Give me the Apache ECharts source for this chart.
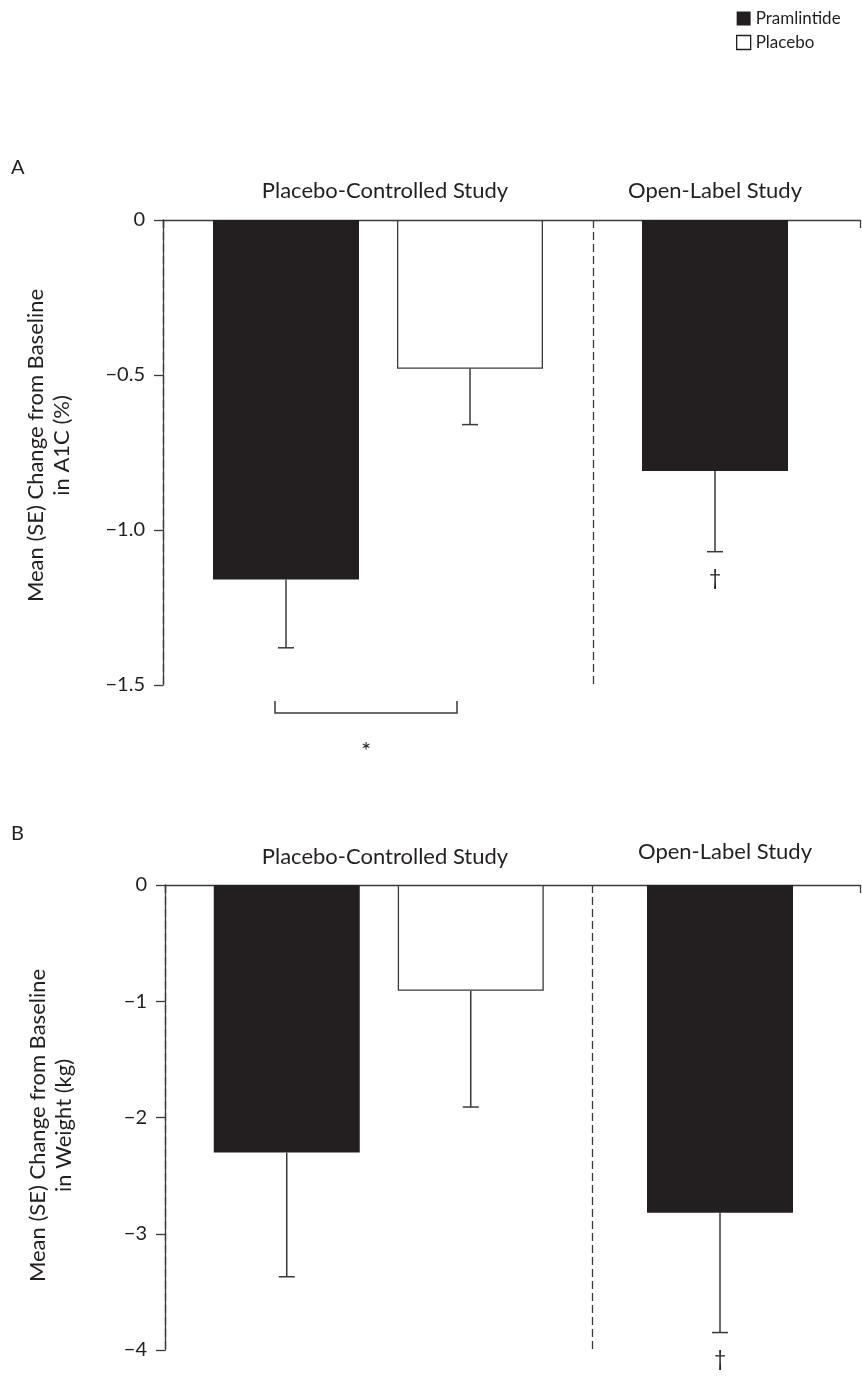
<!DOCTYPE html>
<html><head><meta charset="utf-8">
<script src="https://cdn.jsdelivr.net/npm/echarts@6/dist/echarts.min.js"></script>
<style>html,body{margin:0;padding:0;background:#fff;overflow:hidden}#c{width:862px;height:1378px}</style>
</head><body><div id="c"></div>
<script>
// ---- data ----
const studies = ['Placebo-Controlled Study', 'Open-Label Study'];
const seriesNames = ['Pramlintide', 'Placebo'];
const a1cPram = [-1.16, -0.81];
const a1cPramSE = [0.22, 0.26];
const a1cPlac = [-0.48, null];
const a1cPlacSE = [0.18, null];
const a1cPramMarks = ['', '\u2020'];
const wtPram = [-2.3, -2.82];
const wtPramSE = [1.07, 1.03];
const wtPlac = [-0.91, null];
const wtPlacSE = [1.0, null];
const wtPramMarks = ['', '\u2020'];
const a1cTicks = [0, -0.5, -1.0, -1.5];
const wtTicks = [0, -1, -2, -3, -4];
const a1cTitle = 'Mean (SE) Change from Baseline\nin A1C (%)';
const wtTitle = 'Mean (SE) Change from Baseline\nin Weight (kg)';

// ---- style ----
const FONT = 'Lato';
const INK = '#231f20';
const LINE = '#3a3a3a';
const BAR_W = 146;
const GAP = 38;
const SHIFT = (BAR_W + GAP) / 2;

const chart = echarts.init(document.getElementById('c'), null, {renderer: 'canvas'});

function minOf(t){return Math.min.apply(null,t);}
function maxOf(t){return Math.max.apply(null,t);}
function fmt1(v){ if (v === 0) return '0'; return '\u2212' + Math.abs(v).toFixed(1); }
function fmt0(v){ if (v === 0) return '0'; return '\u2212' + Math.abs(v).toFixed(0); }

function frameY(grid, ticks, title, fmt, shiftY){
  return {
    type:'value', gridIndex: grid, min: minOf(ticks), max: maxOf(ticks),
    interval: Math.abs(ticks[1]-ticks[0]),
    axisLine:{show:true, lineStyle:{color:LINE, width:1.3}},
    axisTick:{show:true, length:9, lineStyle:{color:LINE, width:1.3}},
    axisLabel:{margin:18, fontSize:20, color:INK, fontFamily:FONT, formatter: fmt},
    splitLine:{show:false},
    name: title, nameLocation:'middle', nameRotate:90, nameGap:88,
    nameTextStyle:{fontSize:22, lineHeight:26, color:INK, fontFamily:FONT, align:'center', padding:shiftY}
  };
}
function hiddenY(grid, ticks){
  return {type:'value', gridIndex:grid, min:minOf(ticks), max:maxOf(ticks), show:false};
}
function frameX(grid){
  return {type:'value', gridIndex:grid, min:0, max:1, interval:1, position:'top',
    axisLine:{show:true, onZero:false, lineStyle:{color:LINE, width:1.3}},
    axisTick:{show:true, inside:true, length:8, lineStyle:{color:LINE, width:1.3}},
    axisLabel:{show:false}, splitLine:{show:false}};
}
function barsX(grid, cat, dashed){
  return {type:'category', gridIndex:grid, data:[cat], position:'top',
    axisLine:{show:false}, axisTick:{show:false}, axisLabel:{show:false},
    splitLine:{show:dashed, interval:0, lineStyle:{color:LINE, width:1.3, type:[8,4]}}};
}
function barSeries(name, data, ax, hollow){
  return {type:'bar', name:name, xAxisIndex:ax, yAxisIndex:ax, data:data,
    barWidth:BAR_W, barGap:(GAP/BAR_W*100)+'%',
    itemStyle: hollow ? {color:'#fff', borderColor:LINE, borderWidth:1.3} : {color:INK},
    silent:true};
}
function errSeries(name, mean, se, mark, side, ax){
  return {type:'custom', name:name+' SE', xAxisIndex:ax, yAxisIndex:ax, z:5, silent:true,
    data:[[0, mean, mean - se]], encode:{x:0, y:[1,2]},
    renderItem:(params, api)=>{
      const top = api.coord([api.value(0), api.value(1)]);
      const bot = api.coord([api.value(0), api.value(2)]);
      const x = top[0] + side*SHIFT;
      const st = {stroke:LINE, lineWidth:1.5};
      const ch = [
        {type:'line', shape:{x1:x,y1:top[1],x2:x,y2:bot[1]}, style:st},
        {type:'line', shape:{x1:x-8,y1:bot[1],x2:x+8,y2:bot[1]}, style:st}
      ];
      if (mark) ch.push({type:'text', style:{text:mark, x:x, y:bot[1]+27, align:'center', verticalAlign:'middle', fontSize:21, fontFamily:FONT, fill:INK}});
      return {type:'group', children:ch};
    }};
}

const panels = [
  {pram:a1cPram, pramSE:a1cPramSE, plac:a1cPlac, placSE:a1cPlacSE, marks:a1cPramMarks, ticks:a1cTicks, title:a1cTitle, fmt:fmt1,
   top:220, frameLeft:163, titlePad:[0,0,0,14], groups:[{left:163, width:430}, {left:600, width:230}]},
  {pram:wtPram, pramSE:wtPramSE, plac:wtPlac, placSE:wtPlacSE, marks:wtPramMarks, ticks:wtTicks, title:wtTitle, fmt:fmt0,
   top:885, frameLeft:165, titlePad:[0,16,0,0], groups:[{left:165, width:427.5}, {left:605, width:230}]}
];
const H = 465;

const grids = [], xAxes = [], yAxes = [], series = [];
panels.forEach(p => {
  const f = grids.length;
  grids.push({left:p.frameLeft, top:p.top, width:860 - p.frameLeft, height:H});
  xAxes.push(frameX(f));
  yAxes.push(frameY(f, p.ticks, p.title, p.fmt, p.titlePad));
  studies.forEach((s, i) => {
    const g = grids.length;
    grids.push({left:p.groups[i].left, top:p.top, width:p.groups[i].width, height:H});
    xAxes.push(barsX(g, s, i === 0));
    yAxes.push(hiddenY(g, p.ticks));
    const hasPlac = p.plac[i] != null;
    series.push(barSeries(seriesNames[0], [p.pram[i]], g, false));
    if (hasPlac) series.push(barSeries(seriesNames[1], [p.plac[i]], g, true));
    series.push(errSeries(seriesNames[0], p.pram[i], p.pramSE[i], p.marks[i], hasPlac ? -1 : 0, g));
    if (hasPlac) series.push(errSeries(seriesNames[1], p.plac[i], p.placSE[i], '', 1, g));
  });
});

chart.setOption({
  animation:false,
  backgroundColor:'#fff',
  legend:{
    orient:'vertical', left:736, top:10, padding:0, itemWidth:14, itemHeight:14, itemGap:7,
    selectedMode:false, icon:'rect',
    textStyle:{fontSize:17, color:INK, fontFamily:FONT},
    data:[
      {name:seriesNames[0], itemStyle:{color:INK}},
      {name:seriesNames[1], itemStyle:{color:'#fff', borderColor:INK, borderWidth:1.3}}
    ]
  },
  grid:grids, xAxis:xAxes, yAxis:yAxes, series:series
});

// annotations: panel letters, study headers, significance bracket tied to bar positions
const c0 = chart.convertToPixel({xAxisIndex:1}, studies[0]);
const yBr = chart.convertToPixel({yAxisIndex:1}, -1.59);
const brL = c0 - SHIFT - 11, brR = c0 + SHIFT - 13;
const txt = (t, x, y, size, align) => ({type:'text', x:x, y:y, style:{text:t, fontSize:size, fontFamily:FONT, fill:INK, align:align||'center', verticalAlign:'middle'}});
chart.setOption({graphic:[
  txt('A', 11, 168, 20, 'left'),
  txt('B', 11, 834, 20, 'left'),
  txt(studies[0], 385, 191, 22),
  txt(studies[1], 715, 191, 22),
  txt(studies[0], 385, 857, 22),
  txt(studies[1], 725, 852, 22),
  {type:'polyline', shape:{points:[[brL, yBr-12],[brL, yBr],[brR, yBr],[brR, yBr-12]]}, style:{stroke:LINE, lineWidth:1.5, fill:null}},
  txt('*', (brL+brR)/2, yBr+38, 24)
]});
</script></body></html>
